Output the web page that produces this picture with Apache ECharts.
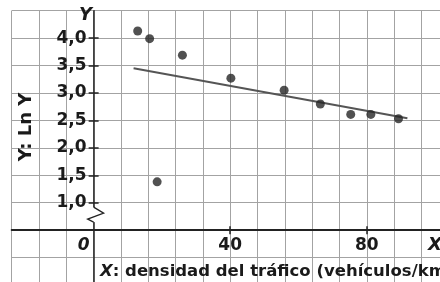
<!DOCTYPE html>
<html>
<head>
<meta charset="utf-8">
<script src="https://cdn.jsdelivr.net/npm/echarts@6/dist/echarts.min.js"></script>
<style>
  html, body { margin: 0; padding: 0; background: #fff; }
</style>
</head>
<body>
<div id="chart" style="width: 440px;height:282px;"></div>
<script>
// densidad del tráfico (vehículos/km) vs Ln Y
const densidad = [12.9, 16.4, 18.6, 26.0, 40.2, 55.8, 66.4, 75.3, 81.2, 89.3]
const lnY = [4.13, 3.99, 1.38, 3.69, 3.27, 3.05, 2.80, 2.61, 2.61, 2.53]
// recta de ajuste
const trendX = [11.7, 91.9]
const trendY = [3.45, 2.54]
// ticks
const yTicks = [1.0, 1.5, 2.0, 2.5, 3.0, 3.5, 4.0]
const xTicks = [40, 80]
const xLabels = [0, 40, 80]

const FONT = 'DejaVu Sans'
const INK = '#1a1a1a'
const AXIS_COLOR = '#222'
const GRID_COLOR = '#a3a3a3'
const X_AXIS_AT = 0.5 // the x axis crosses the (broken) y axis here

const chart = echarts.init(document.getElementById('chart'))

const xBase = { type: 'value', min: -24, max: 104, interval: 8, position: 'bottom' }
const yBase = { type: 'value', min: -0.5, max: 4.5, interval: 0.5, position: 'left' }
const off = { show: false }
const tickStyle = { color: AXIS_COLOR, width: 1.5 }

chart.setOption({
  animation: false,
  backgroundColor: '#fff',
  grid: {
    left: 11.7,
    right: -8.7,
    top: 10.7,
    bottom: -3,
    containLabel: false,
    outerBoundsMode: 'none'
  },
  xAxis: [
    // grid lines only
    Object.assign({}, xBase, {
      axisLine: off, axisTick: off, axisLabel: off,
      splitLine: { show: true, lineStyle: { color: GRID_COLOR, width: 1 } }
    }),
    // axis line, ticks and labels
    Object.assign({}, xBase, {
      axisLine: { show: true, onZero: false, lineStyle: { color: AXIS_COLOR, width: 2 } },
      axisTick: { show: true, customValues: xTicks, length: 4, lineStyle: tickStyle },
      axisLabel: {
        show: true,
        customValues: xLabels,
        margin: 7,
        color: INK,
        fontFamily: FONT,
        fontWeight: 'bold',
        fontSize: 17,
        formatter: function (v) {
          return v === 0 ? '{z|0}' : String(v)
        },
        rich: {
          z: {
            fontFamily: FONT,
            fontWeight: 'bold',
            fontStyle: 'italic',
            fontSize: 17,
            color: INK,
            padding: [0, 20, 0, 0]
          }
        }
      },
      splitLine: off
    }),
    // ticks on the other side
    Object.assign({}, xBase, {
      axisLine: { show: false, onZero: false },
      axisTick: { show: true, inside: true, customValues: xTicks, length: 4, lineStyle: tickStyle },
      axisLabel: off,
      splitLine: off
    })
  ],
  yAxis: [
    Object.assign({}, yBase, {
      axisLine: { show: false, onZero: false }, axisTick: off, axisLabel: off,
      splitLine: { show: true, lineStyle: { color: GRID_COLOR, width: 1 } }
    }),
    Object.assign({}, yBase, {
      axisLine: { show: true, onZero: false, lineStyle: { color: AXIS_COLOR, width: 1.5 } },
      axisTick: { show: true, customValues: yTicks, length: 5, lineStyle: tickStyle },
      axisLabel: {
        show: true,
        customValues: yTicks,
        margin: 7,
        color: INK,
        fontFamily: FONT,
        fontWeight: 'bold',
        fontSize: 17,
        formatter: function (v) {
          return v.toFixed(1).replace('.', ',')
        }
      },
      splitLine: off
    }),
    Object.assign({}, yBase, {
      axisLine: { show: false, onZero: false },
      axisTick: { show: true, inside: true, customValues: yTicks, length: 5, lineStyle: tickStyle },
      axisLabel: off,
      splitLine: off
    })
  ],
  series: [
    {
      name: 'ajuste',
      type: 'line',
      xAxisIndex: 0,
      yAxisIndex: 0,
      symbol: 'none',
      lineStyle: { color: '#555', width: 2 },
      data: trendX.map((x, i) => [x, trendY[i]]),
      z: 3
    },
    {
      name: 'datos',
      type: 'scatter',
      xAxisIndex: 0,
      yAxisIndex: 0,
      symbol: 'circle',
      symbolSize: 9,
      itemStyle: { color: '#262626' },
      data: densidad.map((x, i) => [x, lnY[i]]),
      z: 4
    }
  ]
})

// move the axes to where they cross: x axis at y = 0.5, y axis at x = 0
const bottomPx = chart.convertToPixel({ yAxisIndex: 0 }, -0.5)
const xAxisPx = chart.convertToPixel({ yAxisIndex: 0 }, X_AXIS_AT)
const leftPx = chart.convertToPixel({ xAxisIndex: 0 }, -24)
const yAxisPx = chart.convertToPixel({ xAxisIndex: 0 }, 0)
const xOff = -(bottomPx - xAxisPx)
const yOff = -(yAxisPx - leftPx)
chart.setOption({
  xAxis: [{}, { offset: xOff }, { offset: xOff }],
  yAxis: [{}, { offset: yOff }, { offset: yOff }]
})

// axis break zigzag on the y axis, plus titles
const brk = chart.convertToPixel({ xAxisIndex: 0, yAxisIndex: 0 }, [0, 0.92])
const bx = brk[0]
const by = brk[1]
chart.setOption({
  graphic: [
    {
      type: 'rect',
      z: 100,
      shape: { x: bx - 2, y: by, width: 4, height: 15 },
      style: { fill: '#fff' }
    },
    {
      type: 'polyline',
      z: 101,
      shape: { points: [[bx, by], [bx + 10, by + 6], [bx - 6, by + 12], [bx, by + 15]] },
      style: { stroke: AXIS_COLOR, lineWidth: 1.3, fill: null }
    },
    {
      type: 'text',
      z: 101,
      x: 92,
      y: 15,
      style: {
        text: 'Y',
        font: 'italic bold 18px "DejaVu Sans"',
        fill: INK,
        align: 'right',
        verticalAlign: 'middle'
      }
    },
    {
      type: 'text',
      z: 101,
      x: 428,
      y: 245,
      style: {
        text: 'X',
        font: 'italic bold 18px "DejaVu Sans"',
        fill: INK,
        align: 'left',
        verticalAlign: 'middle'
      }
    },
    {
      type: 'text',
      z: 101,
      x: 26,
      y: 127,
      rotation: Math.PI / 2,
      style: {
        text: 'Y: Ln Y',
        font: 'bold 18px "DejaVu Sans"',
        fill: INK,
        align: 'center',
        verticalAlign: 'middle'
      }
    },
    {
      type: 'text',
      z: 101,
      x: 100,
      y: 272,
      style: {
        text: '{i|X}: densidad del tráfico (vehículos/km)',
        font: 'bold 16.5px "DejaVu Sans"',
        fill: INK,
        align: 'left',
        verticalAlign: 'middle',
        rich: {
          i: { font: 'italic bold 16.5px "DejaVu Sans"', fill: INK }
        }
      }
    }
  ]
})
</script>
</body>
</html>
